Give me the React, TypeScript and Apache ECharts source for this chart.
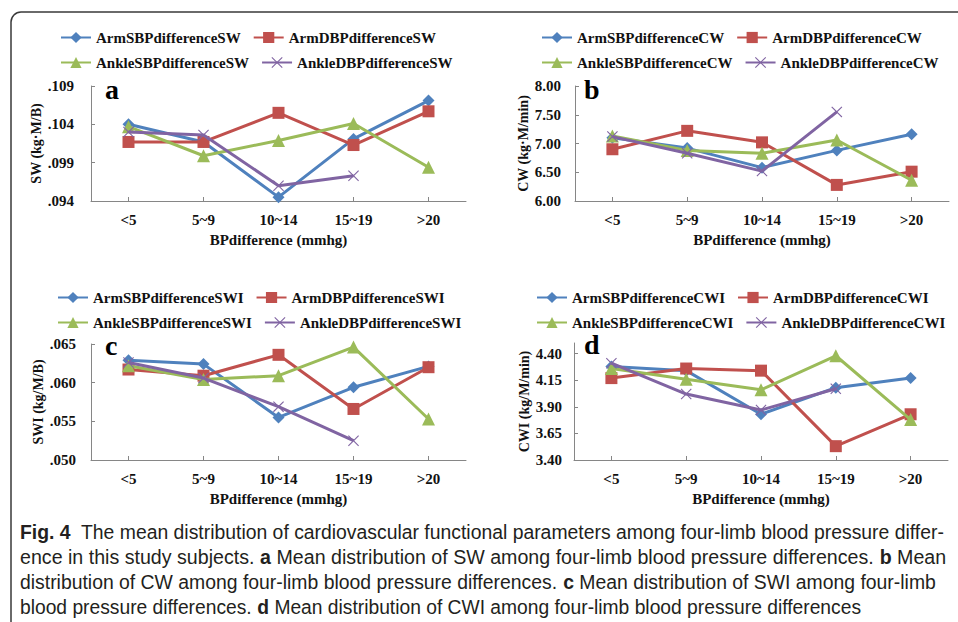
import React, { useEffect, useRef } from "react";
import * as echarts from "echarts";

// ---------- data ----------
const categories = ["<5", "5~9", "10~14", "15~19", ">20"];

const swArmSBP = [0.104, 0.1017, 0.0945, 0.1021, 0.1071];
const swArmDBP = [0.1017, 0.1017, 0.1055, 0.1013, 0.1057];
const swAnkleSBP = [0.1037, 0.0999, 0.1019, 0.1041, 0.0984];
const swAnkleDBP = [0.103, 0.1026, 0.096, 0.0973, null];

const cwArmSBP = [7.1, 6.92, 6.58, 6.88, 7.16];
const cwArmDBP = [6.9, 7.22, 7.02, 6.28, 6.51];
const cwAnkleSBP = [7.13, 6.88, 6.83, 7.06, 6.36];
const cwAnkleDBP = [7.12, 6.83, 6.52, 7.55, null];

const swiArmSBP = [0.0629, 0.0624, 0.0555, 0.0594, 0.0621];
const swiArmDBP = [0.0617, 0.0609, 0.0636, 0.0566, 0.062];
const swiAnkleSBP = [0.0622, 0.0604, 0.0609, 0.0646, 0.0553];
const swiAnkleDBP = [0.0626, 0.0606, 0.0569, 0.0525, null];

const cwiArmSBP = [4.28, 4.24, 3.83, 4.08, 4.17];
const cwiArmDBP = [4.17, 4.26, 4.24, 3.53, 3.83];
const cwiAnkleSBP = [4.26, 4.16, 4.06, 4.38, 3.78];
const cwiAnkleDBP = [4.31, 4.02, 3.87, 4.07, null];

const swTicks = [0.094, 0.099, 0.104, 0.109];
const cwTicks = [6.0, 6.5, 7.0, 7.5, 8.0];
const swiTicks = [0.05, 0.055, 0.06, 0.065];
const cwiTicks = [3.4, 3.65, 3.9, 4.15, 4.4];

const seriesPrefixes = ["ArmSBPdifference", "ArmDBPdifference", "AnkleSBPdifference", "AnkleDBPdifference"];

const captionLines: [string, boolean][][] = [
  [["Fig. 4", true], ["  The mean distribution of cardiovascular functional parameters among four-limb blood pressure differ-", false]],
  [["ence in this study subjects. ", false], ["a", true], [" Mean distribution of SW among four-limb blood pressure differences. ", false], ["b", true], [" Mean", false]],
  [["distribution of CW among four-limb blood pressure differences. ", false], ["c", true], [" Mean distribution of SWI among four-limb", false]],
  [["blood pressure differences. ", false], ["d", true], [" Mean distribution of CWI among four-limb blood pressure differences", false]],
];

// ---------- styles ----------
const SERIF = "Liberation Serif";
const SANS = "Liberation Sans";
const COLORS = ["#4F81BD", "#C0504D", "#9BBB59", "#8064A2"];
const XPATH =
  "path://M0,0.7 L0.7,0 L5,4.3 L9.3,0 L10,0.7 L5.7,5 L10,9.3 L9.3,10 L5,5.7 L0.7,10 L0,9.3 L4.3,5 Z";
const SYMBOLS = ["diamond", "rect", "triangle", XPATH];
const SIZES = [12, 12, 13, 11];

type Panel = {
  suffix: string;
  yName: string;
  min: number;
  max: number;
  ticks: number[];
  digits: number;
  leadingZero: boolean;
  data: (number | null)[][];
  grid: { left: number; top: number; width: number; height: number };
  legendLeft: number;
  legendTop: number;
  labelMargin: number;
  letter: string;
  letterX: number;
  letterY: number;
};

const panels: Panel[] = [
  {
    suffix: "SW", yName: "SW (kg·M/B)", min: 0.094, max: 0.109, ticks: swTicks, digits: 3, leadingZero: false,
    data: [swArmSBP, swArmDBP, swAnkleSBP, swAnkleDBP],
    grid: { left: 91, top: 86, width: 375, height: 115 }, legendLeft: 55, legendTop: 25, labelMargin: 17,
    letter: "a", letterX: 105, letterY: 89,
  },
  {
    suffix: "CW", yName: "CW (kg·M/min)", min: 6, max: 8, ticks: cwTicks, digits: 2, leadingZero: true,
    data: [cwArmSBP, cwArmDBP, cwAnkleSBP, cwAnkleDBP],
    grid: { left: 575, top: 86, width: 374, height: 115 }, legendLeft: 536, legendTop: 25, labelMargin: 14,
    letter: "b", letterX: 584, letterY: 89,
  },
  {
    suffix: "SWI", yName: "SWI (kg/M/B)", min: 0.05, max: 0.065, ticks: swiTicks, digits: 3, leadingZero: false,
    data: [swiArmSBP, swiArmDBP, swiAnkleSBP, swiAnkleDBP],
    grid: { left: 91, top: 344, width: 375, height: 116 }, legendLeft: 52, legendTop: 285, labelMargin: 15,
    letter: "c", letterX: 105, letterY: 345,
  },
  {
    suffix: "CWI", yName: "CWI (kg/M/min)", min: 3.4, max: 4.5, ticks: cwiTicks, digits: 2, leadingZero: true,
    data: [cwiArmSBP, cwiArmDBP, cwiAnkleSBP, cwiAnkleDBP],
    grid: { left: 574, top: 343, width: 374, height: 117 }, legendLeft: 531, legendTop: 285, labelMargin: 12,
    letter: "d", letterX: 584, letterY: 344,
  },
];

function measure(segs: [string, boolean][], size: number) {
  const c = document.createElement("canvas").getContext("2d");
  if (!c) return 1;
  let w = 0;
  for (const [t, b] of segs) {
    c.font = `${b ? "bold " : ""}${size}px ${SANS}`;
    w += c.measureText(t).width;
  }
  return w;
}

function buildOption() {
  const grids: any[] = [];
  const xAxes: any[] = [];
  const yAxes: any[] = [];
  const series: any[] = [];
  const legends: any[] = [];
  const graphics: any[] = [];

  const axisText = { fontFamily: SERIF, fontWeight: "bold", fontSize: 14, color: "#111" };

  panels.forEach((p, i) => {
    grids.push({ ...p.grid });
    xAxes.push({
      type: "category",
      gridIndex: i,
      data: categories,
      boundaryGap: true,
      name: "BPdifference (mmhg)",
      nameLocation: "middle",
      nameGap: 31,
      nameTextStyle: { ...axisText, fontSize: 15 },
      axisLine: { show: true, lineStyle: { color: "#868686", width: 1 } },
      axisTick: { show: true, inside: true, alignWithLabel: true, length: 4, lineStyle: { color: "#868686" } },
      axisLabel: { ...axisText, fontSize: 15, margin: 11 },
      splitLine: { show: false },
    });
    yAxes.push({
      type: "value",
      gridIndex: i,
      min: p.min,
      max: p.max,
      name: p.yName,
      nameLocation: "middle",
      nameGap: 43,
      nameRotate: 90,
      nameTextStyle: { ...axisText, fontSize: 14 },
      axisLine: { show: true, lineStyle: { color: "#868686", width: 1 } },
      axisTick: { show: true, inside: true, length: 4, customValues: p.ticks, lineStyle: { color: "#868686" } },
      axisLabel: {
        ...axisText,
        fontSize: 15,
        margin: p.labelMargin,
        customValues: p.ticks,
        formatter: (v: number) => {
          const s = v.toFixed(p.digits);
          return p.leadingZero ? s : s.replace(/^0/, "");
        },
      },
      splitLine: { show: false },
    });
    const names = seriesPrefixes.map((pre) => pre + p.suffix);
    names.forEach((n, k) => {
      series.push({
        type: "line",
        name: n,
        xAxisIndex: i,
        yAxisIndex: i,
        data: p.data[k],
        symbol: SYMBOLS[k],
        symbolSize: SIZES[k],
        showAllSymbol: true,
        connectNulls: false,
        lineStyle: { color: COLORS[k], width: 3 },
        itemStyle: { color: COLORS[k] },
        z: 2 + k,
      });
    });
    const legendCommon = {
      left: p.legendLeft,
      itemWidth: 30,
      itemHeight: 14,
      itemGap: 12,
      orient: "horizontal",
      selectedMode: false,
      textStyle: { fontFamily: SERIF, fontWeight: "bold", fontSize: 15, color: "#111" },
    };
    legends.push({ ...legendCommon, top: p.legendTop, data: [names[0], names[1]] });
    legends.push({ ...legendCommon, top: p.legendTop + 25, data: [names[2], names[3]] });

    graphics.push({
      type: "text",
      x: p.letterX,
      y: p.letterY,
      style: {
        text: p.letter,
        fontFamily: SERIF,
        fontWeight: "bold",
        fontSize: 28,
        fill: "#000",
        verticalAlign: "middle",
        align: "left",
      },
    });
  });

  // frame
  graphics.unshift({
    type: "rect",
    shape: { x: 11, y: 12, width: 1000, height: 700, r: 10 },
    style: { fill: "none", stroke: "#3a3a3a", lineWidth: 1.5 },
  });

  // caption
  const capSize = 21;
  const targets = [925, 926, 916, 842];
  captionLines.forEach((segs, li) => {
    const w = measure(segs, capSize);
    const s = targets[li] / w;
    const text = segs.map(([t, b]) => (b ? `{b|${t}}` : t)).join("");
    graphics.push({
      type: "text",
      x: 20,
      y: 532 + li * 25,
      scaleX: s,
      style: {
        text,
        fontFamily: SANS,
        fontSize: capSize,
        fill: "#231f20",
        verticalAlign: "middle",
        align: "left",
        rich: { b: { fontFamily: SANS, fontSize: capSize, fontWeight: "bold", fill: "#231f20" } },
      },
    });
  });

  return {
    animation: false,
    backgroundColor: "#ffffff",
    textStyle: { fontFamily: SERIF },
    grid: grids,
    xAxis: xAxes,
    yAxis: yAxes,
    legend: legends,
    series,
    graphic: graphics,
  };
}

export default function App() {
  const ref = useRef<HTMLDivElement>(null);
  useEffect(() => {
    if (!ref.current) return;
    const chart = echarts.init(ref.current, null, { renderer: "svg" });
    chart.setOption(buildOption() as any);
    return () => chart.dispose();
  }, []);
  return (
    <div
      ref={ref}
      style={{ position: "absolute", left: 0, top: 0, width: 958, height: 622, background: "#fff" }}
    />
  );
}
